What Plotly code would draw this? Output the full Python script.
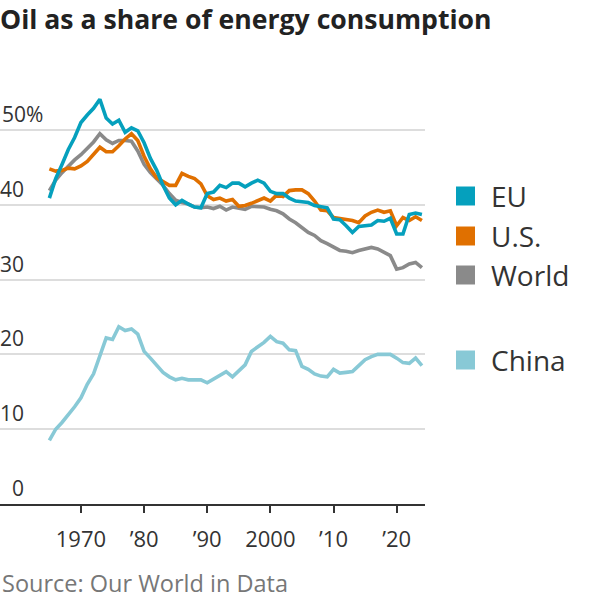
import plotly.graph_objects as go

# ---------------- data ----------------
years = list(range(1965, 2025))

eu = [40.9, 43.5, 45.4, 47.4, 49.0, 51.0, 52.0, 52.9, 54.1, 51.6,
      50.8, 51.3, 49.7, 50.3, 49.9, 48.3, 46.2, 44.6, 42.6, 40.9,
      40.0, 40.6, 40.1, 39.7, 39.6, 41.5, 41.7, 42.6, 42.3, 42.9,
      42.9, 42.4, 42.9, 43.3, 42.9, 41.8, 41.5, 41.5, 40.9, 40.5,
      40.4, 40.3, 39.9, 39.7, 39.6, 38.1, 38.0, 37.2, 36.3, 37.1,
      37.2, 37.3, 37.9, 37.8, 38.2, 36.1, 36.1, 38.7, 38.9, 38.7]

us = [44.8, 44.5, 44.6, 44.9, 44.8, 45.2, 45.8, 46.7, 47.7, 47.1,
      47.1, 47.9, 48.8, 49.5, 48.6, 46.5, 44.8, 43.6, 43.1, 42.6,
      42.6, 44.2, 43.8, 43.5, 42.8, 41.2, 40.7, 40.9, 40.5, 40.7,
      39.8, 39.9, 40.2, 40.5, 40.9, 40.5, 41.3, 41.1, 41.9, 42.0,
      42.0, 41.5, 40.5, 39.3, 39.2, 38.3, 38.2, 38.0, 37.9, 37.6,
      38.5, 39.0, 39.3, 39.0, 39.2, 37.2, 38.3, 37.9, 38.4, 37.9]

world = [41.9, 43.3, 44.3, 45.2, 46.0, 46.7, 47.5, 48.4, 49.5, 48.7,
         48.2, 48.6, 48.6, 48.5, 47.2, 45.4, 44.3, 43.4, 42.6, 41.5,
         40.6, 40.3, 40.1, 39.7, 39.6, 39.7, 39.5, 39.8, 39.3, 39.7,
         39.5, 39.4, 39.8, 39.8, 39.7, 39.4, 39.2, 38.8, 38.1, 37.6,
         37.0, 36.3, 35.9, 35.2, 34.8, 34.4, 33.9, 33.8, 33.6, 33.9,
         34.1, 34.3, 34.1, 33.6, 33.2, 31.4, 31.6, 32.1, 32.3, 31.6]

china = [8.5, 10.0, 10.9, 11.9, 13.0, 14.2, 16.0, 17.4, 19.9, 22.2,
         22.0, 23.7, 23.2, 23.4, 22.7, 20.4, 19.5, 18.5, 17.6, 17.0,
         16.6, 16.8, 16.6, 16.6, 16.6, 16.2, 16.7, 17.3, 17.7, 17.0,
         17.8, 18.6, 20.4, 21.0, 21.6, 22.4, 21.7, 21.5, 20.6, 20.5,
         18.4, 18.0, 17.4, 17.1, 17.0, 18.0, 17.5, 17.6, 17.7, 18.5,
         19.3, 19.7, 20.0, 20.0, 20.0, 19.5, 18.9, 18.8, 19.5, 18.5]

x_tickvals = [1970, 1980, 1990, 2000, 2010, 2020]
x_ticktext = ["1970", "\u201980", "\u201990", "2000", "\u201910", "\u201920"]
y_gridvals = [10, 20, 30, 40, 50]
y_labelvals = [0, 10, 20, 30, 40, 50]
y_labeltext = ["0", "10", "20", "30", "40", "50%"]

series_names = ["China", "World", "U.S.", "EU"]
series_values = [china, world, us, eu]
series_colors = ["#88c9d6", "#8a8a8a", "#e07000", "#05a0bd"]

legend_names = ["EU", "U.S.", "World", "China"]
legend_colors = ["#05a0bd", "#e07000", "#8a8a8a", "#88c9d6"]

title_text = "Oil as a share of energy consumption"
source_text = "Source: Our World in Data"

# ---------------- layout geometry ----------------
W, H = 600, 600
M_L, M_R, M_T, M_B = 0, 175, 80, 96
PW = W - M_L - M_R
PH = H - M_T - M_B
FONT = "Open Sans, Noto Sans, sans-serif"


def px_x(px):
    return (px - M_L) / PW


def px_y(py):
    return (H - M_B - py) / PH


fig = go.Figure()
for name, vals, col in zip(series_names, series_values, series_colors):
    fig.add_trace(go.Scatter(x=years, y=vals, mode="lines", name=name,
                             line=dict(color=col, width=3.6),
                             showlegend=False, hoverinfo="skip"))

annotations = []
for v, t in zip(y_labelvals, y_labeltext):
    if t.endswith("%"):
        annotations.append(dict(x=px_x(0), xref="paper", xanchor="left",
                                y=v, yref="y", yanchor="bottom", yshift=0,
                                text=t, showarrow=False,
                                font=dict(family=FONT, size=21, color="#333")))
    else:
        annotations.append(dict(x=px_x(26), xref="paper", xanchor="right",
                                y=v, yref="y", yanchor="bottom", yshift=0,
                                text=t, showarrow=False,
                                font=dict(family=FONT, size=21, color="#333")))

legend_centers = [196, 236, 275, 360]
shapes = []
for name, col, cy in zip(legend_names, legend_colors, legend_centers):
    shapes.append(dict(type="rect", xref="paper", yref="paper",
                       x0=px_x(456), x1=px_x(475),
                       y0=px_y(cy + 9.5), y1=px_y(cy - 9.5),
                       fillcolor=col, line=dict(width=0)))
    annotations.append(dict(x=px_x(489), xref="paper", xanchor="left",
                            y=px_y(cy), yref="paper", yanchor="middle",
                            text=name, showarrow=False,
                            font=dict(family=FONT, size=28, color="#333")))

annotations.append(dict(x=px_x(0), xref="paper", xanchor="left",
                        y=px_y(583), yref="paper", yanchor="middle",
                        text=source_text, showarrow=False,
                        font=dict(family=FONT, size=23.5, color="#777")))

fig.update_layout(
    width=W, height=H,
    margin=dict(l=M_L, r=M_R, t=M_T, b=M_B, pad=0),
    paper_bgcolor="white", plot_bgcolor="white",
    showlegend=False,
    title=dict(text="<b>" + title_text + "</b>", x=0, xref="container",
               xanchor="left", y=1 - 20 / H, yref="container", yanchor="middle",
               font=dict(family=FONT, size=26.6, color="#222")),
    xaxis=dict(range=[1957.18, 2024.49], tickvals=x_tickvals, ticktext=x_ticktext,
               ticks="outside", ticklen=7, tickwidth=2, tickcolor="#333",
               showline=True, linecolor="#333", linewidth=2,
               showgrid=False, zeroline=False, ticklabelstandoff=8,
               tickfont=dict(family=FONT, size=22, color="#333")),
    yaxis=dict(range=[0, PH / 7.48], tickvals=y_gridvals, showticklabels=False,
               showgrid=True, gridcolor="#dddddd", gridwidth=1.5,
               zeroline=False, showline=False, ticks=""),
    annotations=annotations,
    shapes=shapes,
)

fig.write_html("out.html")
